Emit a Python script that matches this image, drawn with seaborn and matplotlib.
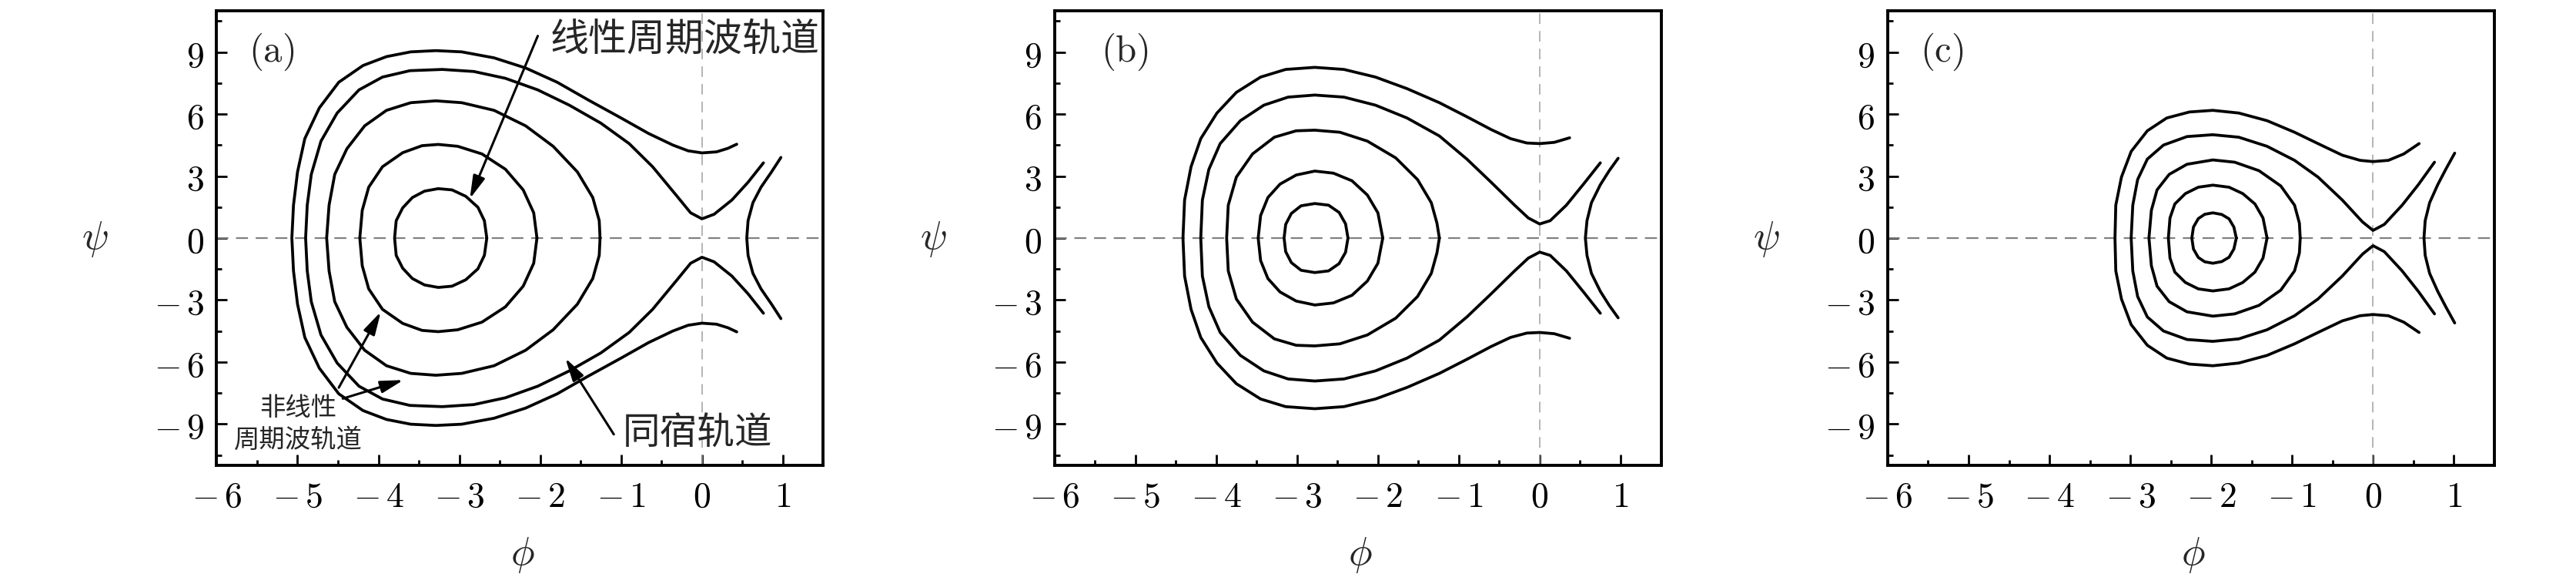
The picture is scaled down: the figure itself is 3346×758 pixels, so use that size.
import numpy as np
import matplotlib
matplotlib.use("Agg")
import matplotlib.pyplot as plt
from matplotlib.ticker import MultipleLocator
import seaborn as sns

# Upper halves (psi >= 0) of every orbit as (phi, psi).
# Each list starts at the left turning point on psi = 0; the lower half is the
# mirror image psi -> -psi, as in the original phase portraits.

# ---- panel (a) ----
a_closed1 = [(-3.80, 0), (-3.78, 0.84), (-3.70, 1.46), (-3.58, 1.96), (-3.43, 2.27),
             (-3.26, 2.39), (-3.09, 2.33), (-2.92, 2.02), (-2.77, 1.49), (-2.69, 0.84),
             (-2.66, 0)]
a_closed2 = [(-4.23, 0), (-4.20, 1.34), (-4.12, 2.46), (-3.95, 3.45), (-3.70, 4.13),
             (-3.46, 4.47), (-3.26, 4.53), (-3.02, 4.44), (-2.72, 4.07), (-2.43, 3.33),
             (-2.21, 2.33), (-2.08, 1.22), (-2.04, 0)]
a_closed3 = [(-4.64, 0), (-4.61, 1.59), (-4.54, 3.08), (-4.39, 4.32), (-4.17, 5.43),
             (-3.90, 6.18), (-3.60, 6.55), (-3.29, 6.64), (-2.97, 6.55), (-2.57, 6.18),
             (-2.18, 5.43), (-1.84, 4.44), (-1.54, 3.20), (-1.35, 1.96), (-1.27, 0.84),
             (-1.26, 0)]
a_homoclinic = [(-4.90, 0), (-4.88, 1.59), (-4.83, 3.08), (-4.71, 4.69), (-4.51, 6.05),
                (-4.24, 7.17), (-3.95, 7.79), (-3.61, 8.10), (-3.21, 8.16), (-2.82, 8.06),
                (-2.43, 7.73), (-2.03, 7.17), (-1.64, 6.43), (-1.25, 5.56), (-0.90, 4.57),
                (-0.61, 3.45), (-0.32, 2.08), (-0.14, 1.22), (0.0, 0.93), (0.15, 1.15),
                (0.37, 1.84), (0.57, 2.70), (0.76, 3.64)]
a_outer = [(-5.07, 0), (-5.05, 1.59), (-5.00, 3.20), (-4.91, 4.81), (-4.73, 6.30),
           (-4.49, 7.54), (-4.19, 8.35), (-3.90, 8.78), (-3.60, 9.01), (-3.29, 9.07),
           (-2.97, 9.01), (-2.57, 8.72), (-2.18, 8.23), (-1.79, 7.54), (-1.40, 6.67),
           (-1.00, 5.81), (-0.66, 5.06), (-0.36, 4.50), (-0.17, 4.22), (0.0, 4.12),
           (0.18, 4.17), (0.32, 4.34), (0.43, 4.54)]
a_right = [(0.554, 0), (0.57, 0.84), (0.63, 1.71), (0.73, 2.46), (0.86, 3.20), (0.976, 3.90)]

# ---- panel (b) ----
b_closed1 = [(-3.16, 0), (-3.14, 0.66), (-3.07, 1.19), (-2.95, 1.56), (-2.78, 1.67),
             (-2.61, 1.59), (-2.48, 1.24), (-2.40, 0.69), (-2.37, 0)]
b_closed2 = [(-3.48, 0), (-3.45, 1.09), (-3.36, 1.96), (-3.21, 2.61), (-3.01, 3.05),
             (-2.78, 3.24), (-2.55, 3.14), (-2.32, 2.77), (-2.13, 2.08), (-2.00, 1.22),
             (-1.94, 0)]
b_closed3 = [(-3.87, 0), (-3.85, 1.59), (-3.75, 2.95), (-3.55, 4.07), (-3.28, 4.88),
             (-3.01, 5.19), (-2.78, 5.22), (-2.47, 5.12), (-2.13, 4.69), (-1.78, 3.88),
             (-1.51, 2.83), (-1.34, 1.71), (-1.27, 0.72), (-1.24, 0)]
b_homoclinic = [(-4.19, 0), (-4.17, 1.84), (-4.09, 3.32), (-3.95, 4.57), (-3.70, 5.68),
                (-3.41, 6.43), (-3.11, 6.82), (-2.78, 6.92), (-2.42, 6.82), (-2.03, 6.43),
                (-1.64, 5.81), (-1.24, 4.94), (-0.90, 3.82), (-0.60, 2.70), (-0.31, 1.59),
                (-0.14, 0.97), (0.0, 0.68), (0.13, 0.84), (0.33, 1.59), (0.55, 2.65),
                (0.75, 3.64)]
b_outer = [(-4.41, 0), (-4.39, 1.84), (-4.31, 3.45), (-4.19, 4.81), (-3.99, 6.05),
           (-3.75, 7.05), (-3.45, 7.79), (-3.14, 8.16), (-2.78, 8.26), (-2.42, 8.16),
           (-2.03, 7.79), (-1.64, 7.23), (-1.24, 6.55), (-0.90, 5.87), (-0.60, 5.25),
           (-0.36, 4.81), (-0.16, 4.60), (0.0, 4.57), (0.18, 4.63), (0.37, 4.85)]
b_right = [(0.565, 0), (0.585, 0.84), (0.64, 1.71), (0.75, 2.58), (0.86, 3.26), (0.97, 3.86)]

# ---- panel (c) ----
c_closed1 = [(-2.24, 0), (-2.22, 0.53), (-2.16, 0.94), (-2.08, 1.15), (-1.98, 1.22),
             (-1.87, 1.14), (-1.78, 0.93), (-1.72, 0.53), (-1.69, 0)]
c_closed2 = [(-2.53, 0), (-2.51, 0.97), (-2.45, 1.65), (-2.32, 2.15), (-2.16, 2.46),
             (-1.98, 2.56), (-1.78, 2.46), (-1.61, 2.15), (-1.46, 1.65), (-1.36, 0.97),
             (-1.31, 0)]
c_closed3 = [(-2.77, 0), (-2.74, 1.34), (-2.67, 2.33), (-2.52, 3.08), (-2.30, 3.57),
             (-1.98, 3.78), (-1.71, 3.67), (-1.41, 3.26), (-1.14, 2.52), (-0.97, 1.59),
             (-0.91, 0.72), (-0.90, 0)]
c_homoclinic = [(-2.99, 0), (-2.97, 1.59), (-2.91, 2.83), (-2.79, 3.82), (-2.59, 4.50),
                (-2.30, 4.91), (-1.98, 5.00), (-1.66, 4.88), (-1.31, 4.44), (-0.97, 3.76),
                (-0.68, 2.95), (-0.38, 1.84), (-0.13, 0.78), (0.0, 0.37), (0.14, 0.66),
                (0.36, 1.59), (0.56, 2.58), (0.76, 3.67)]
c_outer = [(-3.19, 0), (-3.18, 1.59), (-3.11, 2.95), (-2.99, 4.19), (-2.79, 5.19),
           (-2.55, 5.81), (-2.27, 6.10), (-1.98, 6.18), (-1.66, 6.05), (-1.31, 5.68),
           (-0.97, 5.12), (-0.68, 4.57), (-0.38, 4.01), (-0.16, 3.76), (0.0, 3.70),
           (0.19, 3.76), (0.38, 4.07), (0.57, 4.57)]
c_right = [(0.63, 0), (0.645, 0.84), (0.70, 1.71), (0.80, 2.58), (0.90, 3.33), (1.01, 4.11)]

panels = {
    "(a)": [a_closed1, a_closed2, a_closed3, a_homoclinic, a_outer, a_right],
    "(b)": [b_closed1, b_closed2, b_closed3, b_homoclinic, b_outer, b_right],
    "(c)": [c_closed1, c_closed2, c_closed3, c_homoclinic, c_outer, c_right],
}
panel_label_x = {"(a)": -5.32, "(b)": -5.13, "(c)": -5.33}

x_ticks = [-6, -5, -4, -3, -2, -1, 0, 1]
y_ticks = [-9, -6, -3, 0, 3, 6, 9]

# annotation texts (panel a)
linear_label = "线性周期波轨道"
homoclinic_label = "同宿轨道"
nonlinear_label = "非线性\n周期波轨道"


def full_orbit(points):
    """Join the mirrored lower half and the upper half into one path."""
    phi = np.array([p[0] for p in points])
    psi = np.array([p[1] for p in points])
    x = np.concatenate([phi[::-1], phi[1:]])
    y = np.concatenate([-psi[::-1], psi[1:]])
    return x, y


def tex(v):
    # wide minus like the LaTeX original
    return rf"$-\,{abs(v)}$" if v < 0 else rf"${v}$"


sns.set_theme(style="white")
plt.rcParams["font.family"] = ["Noto Sans CJK SC", "DejaVu Sans"]
plt.rcParams["mathtext.fontset"] = "cm"
plt.rcParams["axes.linewidth"] = 2.8

fig = plt.figure(figsize=(33.46, 7.58), dpi=100)
lefts = [0.0841, 0.4093, 0.7328]
arrow_kw = dict(arrowstyle="-|>,head_length=0.6,head_width=0.16", color="black",
                lw=2.2, mutation_scale=30, shrinkA=0, shrinkB=0)

for left, (name, curves) in zip(lefts, panels.items()):
    ax = fig.add_axes([left, 0.2032, 0.2355, 0.7784])
    ax.axhline(0, color="#808080", lw=1.6, ls=(0, (7, 4.5)), zorder=1)
    ax.axvline(0, color="#a0a0a0", lw=1.1, ls=(0, (9, 6)), zorder=1)
    for pts in curves:
        x, y = full_orbit(pts)
        sns.lineplot(x=x, y=y, sort=False, estimator=None, color="black",
                     linewidth=2.7, ax=ax, zorder=3)

    ax.set_xlim(-6, 1.5)
    ax.set_ylim(-11, 11)
    ax.set_xticks(x_ticks)
    ax.set_xticklabels([tex(v) for v in x_ticks])
    ax.set_yticks(y_ticks)
    ax.set_yticklabels([tex(v) for v in y_ticks])
    ax.xaxis.set_minor_locator(MultipleLocator(0.5))
    ax.yaxis.set_minor_locator(MultipleLocator(1.5))
    ax.tick_params(which="both", direction="in", top=False, right=False,
                   bottom=True, left=True, width=2.0, colors="black")
    ax.tick_params(which="major", length=10, labelsize=33, pad=12)
    ax.tick_params(which="minor", length=5)
    for s in ax.spines.values():
        s.set_color("black")

    ax.set_xlabel(r"$\phi$", fontsize=37)
    ax.xaxis.set_label_coords(0.504, -0.15)
    ax.set_ylabel(r"$\psi$", fontsize=37, rotation=0, ha="center", va="center")
    ax.yaxis.set_label_coords(-0.20, 0.5)

    ax.text(panel_label_x[name], 9.0, rf"$\mathrm{{{name}}}$", fontsize=35,
            ha="center", va="center")

    if name == "(a)":
        ax.text(-1.88, 9.59, linear_label, fontsize=36, ha="left", va="center")
        ax.annotate("", xy=(-2.87, 1.90), xytext=(-2.03, 9.78), arrowprops=arrow_kw)
        ax.text(-0.98, -9.48, homoclinic_label, fontsize=35, ha="left", va="center")
        ax.annotate("", xy=(-1.69, -5.81), xytext=(-1.09, -9.50), arrowprops=arrow_kw)
        ax.text(-4.99, -9.0, nonlinear_label, fontsize=24, ha="center", va="center",
                multialignment="center", linespacing=1.25)
        ax.annotate("", xy=(-3.97, -3.57), xytext=(-4.49, -7.24), arrowprops=arrow_kw)
        ax.annotate("", xy=(-3.69, -6.87), xytext=(-4.44, -7.77), arrowprops=arrow_kw)

fig.savefig("out.png", dpi=100)
